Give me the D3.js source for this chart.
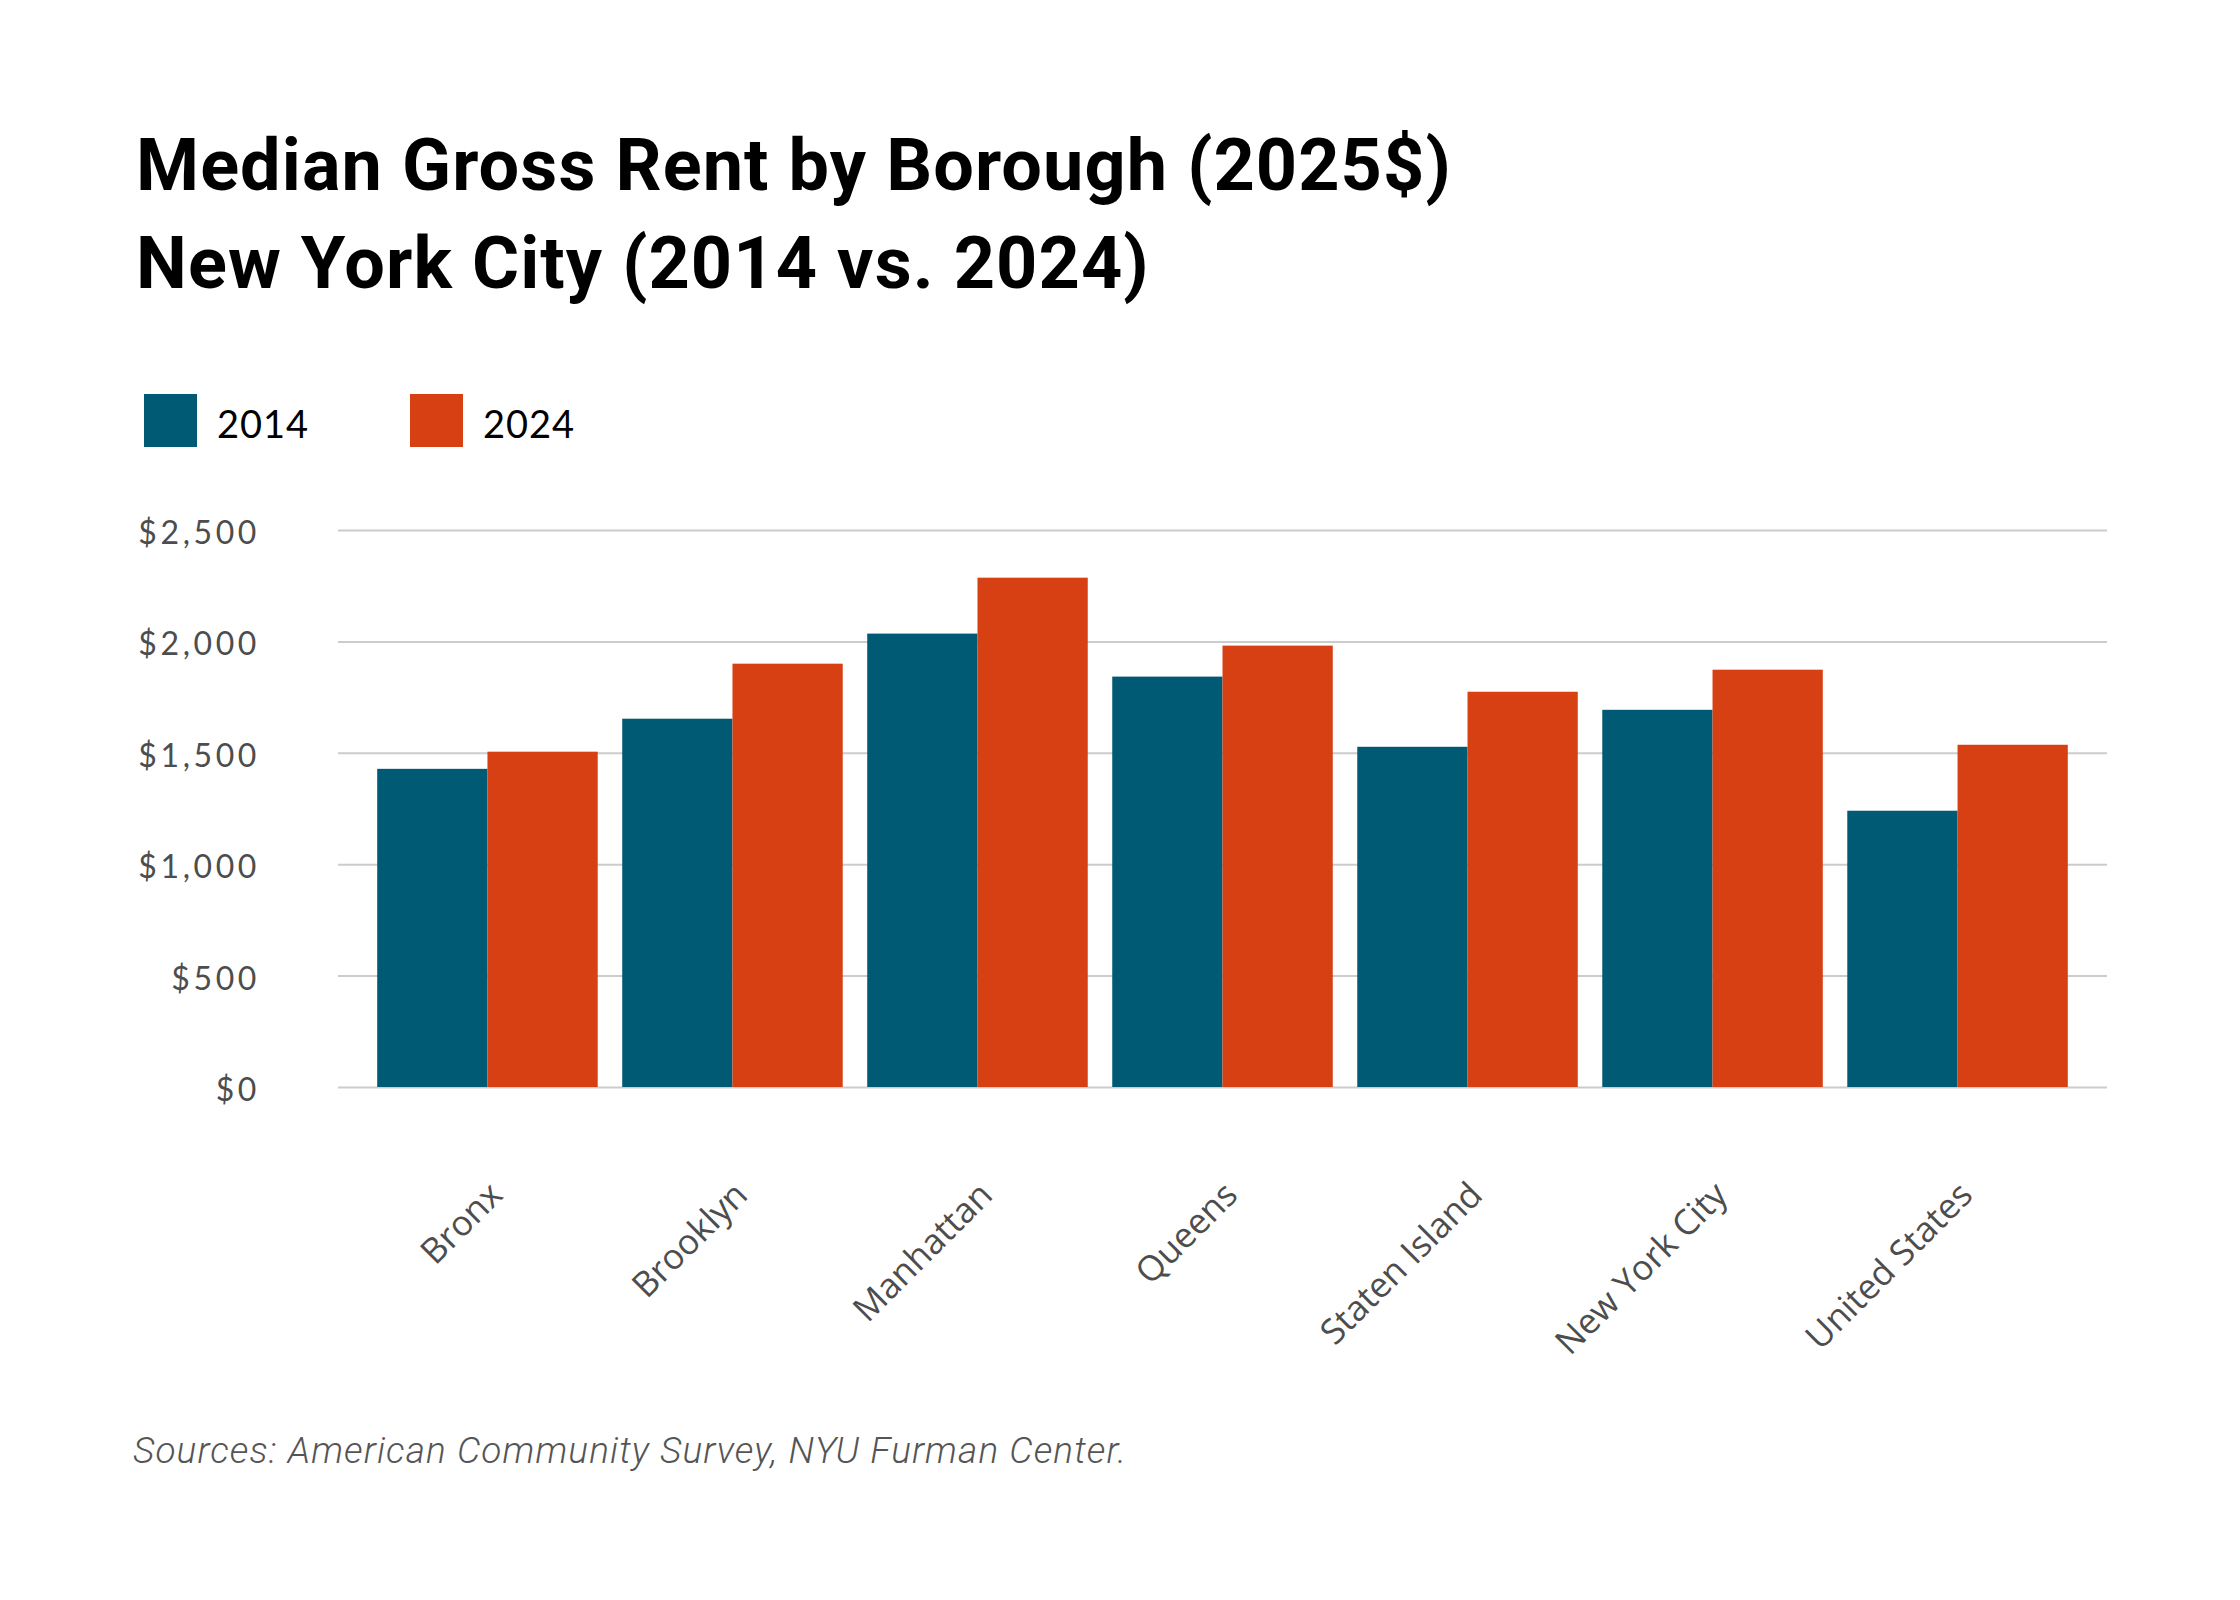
<!DOCTYPE html>
<html>
<head>
<meta charset="utf-8">
<script src="https://cdn.jsdelivr.net/npm/d3@7"></script>
<style>
  body { margin: 0; background: #fff; }
  #chart { width: 2240px; height: 1600px; }
</style>
</head>
<body>
<div id="chart"></div>
<script>
// chart values
const boroughs = ['Bronx', 'Brooklyn', 'Manhattan', 'Queens', 'Staten Island', 'New York City', 'United States'];
const years = ['2014', '2024'];
const rent2014 = [1428, 1653, 2035, 1842, 1527, 1693, 1240];
const rent2024 = [1505, 1900, 2286, 1981, 1774, 1873, 1536];
const yTicks = [0, 500, 1000, 1500, 2000, 2500];

const titleLines = ['Median Gross Rent by Borough (2025$)', 'New York City (2014 vs. 2024)'];
const sourceText = 'Sources: American Community Survey, NYU Furman Center.';

const colors = { '2014': '#005a74', '2024': '#d74012' };

const container = d3.select('#chart');

function draw() {
  container.html('');

  const width = 2240;
  const height = 1600;
  const margin = { top: 530, right: 133, bottom: 513, left: 338 };
  const innerW = width - margin.left - margin.right;
  const innerH = height - margin.top - margin.bottom;

  const svg = container
    .append('svg')
    .attr('width', width)
    .attr('height', height);

  svg.append('rect').attr('width', width).attr('height', height).style('fill', '#fff');

  // title
  svg
    .append('g')
    .selectAll('text')
    .data(titleLines)
    .join('text')
    .text(d => d)
    .attr('x', 136)
    .attr('y', (d, i) => 190 + i * 98)
    .style('font-family', 'Roboto, sans-serif')
    .style('font-weight', 700)
    .style('font-size', '72px')
    .style('letter-spacing', '1.1px')
    .style('fill', '#000');

  // legend
  const legend = svg
    .append('g')
    .attr('transform', 'translate(144,394)')
    .selectAll('g')
    .data(years)
    .join('g')
    .attr('transform', (d, i) => 'translate(' + i * 266 + ',0)');

  legend
    .append('rect')
    .attr('width', 53)
    .attr('height', 53)
    .style('fill', d => colors[d]);

  legend
    .append('text')
    .text(d => d)
    .attr('x', 73)
    .attr('y', 44)
    .style('font-family', 'Lato, sans-serif')
    .style('font-size', '38px')
    .style('letter-spacing', '1px')
    .style('fill', '#000');

  const g = svg
    .append('g')
    .attr('transform', 'translate(' + margin.left + ',' + margin.top + ')');

  const x0 = d3.scaleBand().domain(boroughs).range([0, innerW]).paddingInner(0.1).paddingOuter(0.16);
  const x1 = d3.scaleBand().domain(years).range([0, x0.bandwidth()]);
  const y = d3.scaleLinear().domain([0, 2500]).range([innerH, 0]);

  // grid + y labels
  const yAxis = g
    .append('g')
    .call(
      d3.axisLeft(y)
        .tickValues(yTicks)
        .tickSize(-innerW)
        .tickPadding(78)
        .tickFormat(d => '$' + d3.format(',')(d))
    );
  yAxis.select('.domain').remove();
  yAxis.selectAll('.tick line').style('stroke', '#cccccc').style('stroke-width', 2);
  yAxis
    .selectAll('.tick text')
    .attr('dy', '0.42em')
    .style('font-family', 'Lato, sans-serif')
    .style('font-size', '32px')
    .style('letter-spacing', '3.6px')
    .style('fill', '#4d4d4d');

  // bars
  const rows = boroughs.map((b, i) => ({ borough: b, values: [rent2014[i], rent2024[i]] }));

  g.append('g')
    .selectAll('g')
    .data(rows)
    .join('g')
    .attr('transform', d => 'translate(' + x0(d.borough) + ',0)')
    .selectAll('rect')
    .data(d => d.values.map((v, i) => ({ year: years[i], value: v })))
    .join('rect')
    .attr('x', d => x1(d.year))
    .attr('y', d => y(d.value))
    .attr('width', x1.bandwidth())
    .attr('height', d => innerH - y(d.value))
    .style('fill', d => colors[d.year]);

  // x labels
  const xAxis = g
    .append('g')
    .attr('transform', 'translate(0,' + innerH + ')')
    .call(d3.axisBottom(x0).tickSize(0).tickPadding(0));
  xAxis.select('.domain').remove();
  xAxis
    .selectAll('.tick text')
    .attr('text-anchor', 'end')
    .attr('transform', 'translate(17,110) rotate(-45)')
    .attr('dy', 0)
    .style('font-family', '"Open Sans", sans-serif')
    .style('font-size', '35px')
    .style('fill', '#4d4d4d');

  // source note
  svg
    .append('text')
    .text(sourceText)
    .attr('x', 133)
    .attr('y', 1463)
    .style('font-family', 'Roboto, sans-serif')
    .style('font-style', 'italic')
    .style('font-weight', 300)
    .style('font-size', '37px')
    .style('letter-spacing', '1.1px')
    .style('fill', '#555');
}

draw();
</script>
</body>
</html>
